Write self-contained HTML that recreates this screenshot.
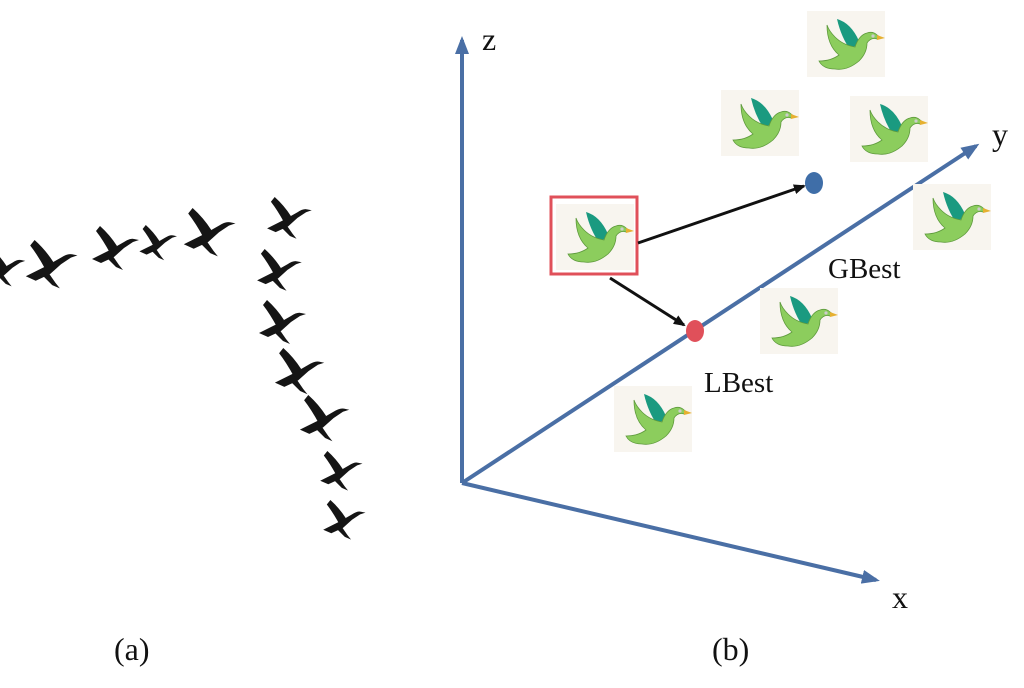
<!DOCTYPE html>
<html><head><style>
html,body{margin:0;padding:0;background:#fff;}
svg text{font-family:"Liberation Serif",serif;fill:#111;}
</style></head><body>
<svg width="1024" height="683" viewBox="0 0 1024 683" xmlns="http://www.w3.org/2000/svg">
<defs>
<g id="goose">
<path d="M-22,13 L-4,4 L10,-4 Q16,-8 20,-7 L25,-6 L19,-4 L10,2 L0,11 L-13,17 Z" fill="#151515"/>
<path d="M-14,-20 Q-4,-11 3,0 L-4,7 Q-11,-6 -18,-15 Z" fill="#151515"/>
<path d="M-4,6 L5,19 L9,24 L2,21 L-9,10 Z" fill="#151515"/>
</g>
<g id="bird">
<rect x="0" y="0" width="78" height="66" fill="#f8f5ef"/>
<path d="M30,8 Q44,12 52,30 L44,40 Q34,26 30,8 Z" fill="#1a9a80"/>
<path d="M20,14 Q20,34 32,44 Q24,50 12,50 Q16,58 28,58 Q40,60 52,50 Q60,42 60,32 Q64,26 70,28 L74,27 L70,24 Q66,20 60,22 Q52,24 48,36 Q36,34 28,26 Q22,20 20,14 Z" fill="#8ccd5d" stroke="#5e9a3c" stroke-width="0.8"/>
<path d="M70,24 L78,27 L70,29 Z" fill="#e6b030"/>
<circle cx="66" cy="25" r="1.6" fill="#ccc"/>
</g>
<marker id="ab" markerWidth="18" markerHeight="14" refX="14" refY="7" orient="auto" markerUnits="userSpaceOnUse"><path d="M0,0 L18,7 L0,14 Z" fill="#4a6fa5"/></marker>
<marker id="ak" markerWidth="12" markerHeight="10" refX="10" refY="5" orient="auto" markerUnits="userSpaceOnUse"><path d="M0,0 L12,5 L0,10 Z" fill="#111"/></marker>
</defs>
<use href="#goose" transform="translate(4,266) scale(0.85)"/>
<use href="#goose" transform="translate(50,262) scale(1.1)"/>
<use href="#goose" transform="translate(114,246) scale(1)"/>
<use href="#goose" transform="translate(157,241) scale(0.8)"/>
<use href="#goose" transform="translate(208,230) scale(1.1)"/>
<use href="#goose" transform="translate(288,216) scale(0.95)"/>
<use href="#goose" transform="translate(278,268) scale(0.95)"/>
<use href="#goose" transform="translate(281,320) scale(1)"/>
<use href="#goose" transform="translate(298,369) scale(1.05)"/>
<use href="#goose" transform="translate(323,416) scale(1.05)"/>
<use href="#goose" transform="translate(340,469) scale(0.9)"/>
<use href="#goose" transform="translate(343,518) scale(0.9)"/>
<g stroke="#4a6fa5" stroke-width="4" fill="none">
<line x1="462" y1="483" x2="462" y2="40" marker-end="url(#ab)"/>
<line x1="462" y1="483" x2="976" y2="146" marker-end="url(#ab)"/>
<line x1="462" y1="483" x2="876" y2="580" marker-end="url(#ab)"/>
</g>
<use href="#bird" x="807" y="11"/>
<use href="#bird" x="721" y="90"/>
<use href="#bird" x="850" y="96"/>
<use href="#bird" x="913" y="184"/>
<use href="#bird" x="760" y="288"/>
<use href="#bird" x="614" y="386"/>
<use href="#bird" x="556" y="204"/>
<rect x="551" y="197" width="86" height="77" fill="none" stroke="#e0505a" stroke-width="3"/>
<line x1="638" y1="243" x2="804" y2="186" stroke="#111" stroke-width="3" marker-end="url(#ak)"/>
<line x1="610" y1="278" x2="684" y2="325" stroke="#111" stroke-width="3" marker-end="url(#ak)"/>
<ellipse cx="814" cy="183" rx="9" ry="11" fill="#3f6ea8"/>
<ellipse cx="695" cy="331" rx="9" ry="11" fill="#e0505a"/>
<text x="482" y="50" font-size="32">z</text>
<text x="992" y="145" font-size="32">y</text>
<text x="892" y="608" font-size="32">x</text>
<text x="828" y="278" font-size="29">GBest</text>
<text x="704" y="392" font-size="29">LBest</text>
<text x="114" y="660" font-size="32">(a)</text>
<text x="712" y="660" font-size="32">(b)</text>
</svg>
</body></html>
